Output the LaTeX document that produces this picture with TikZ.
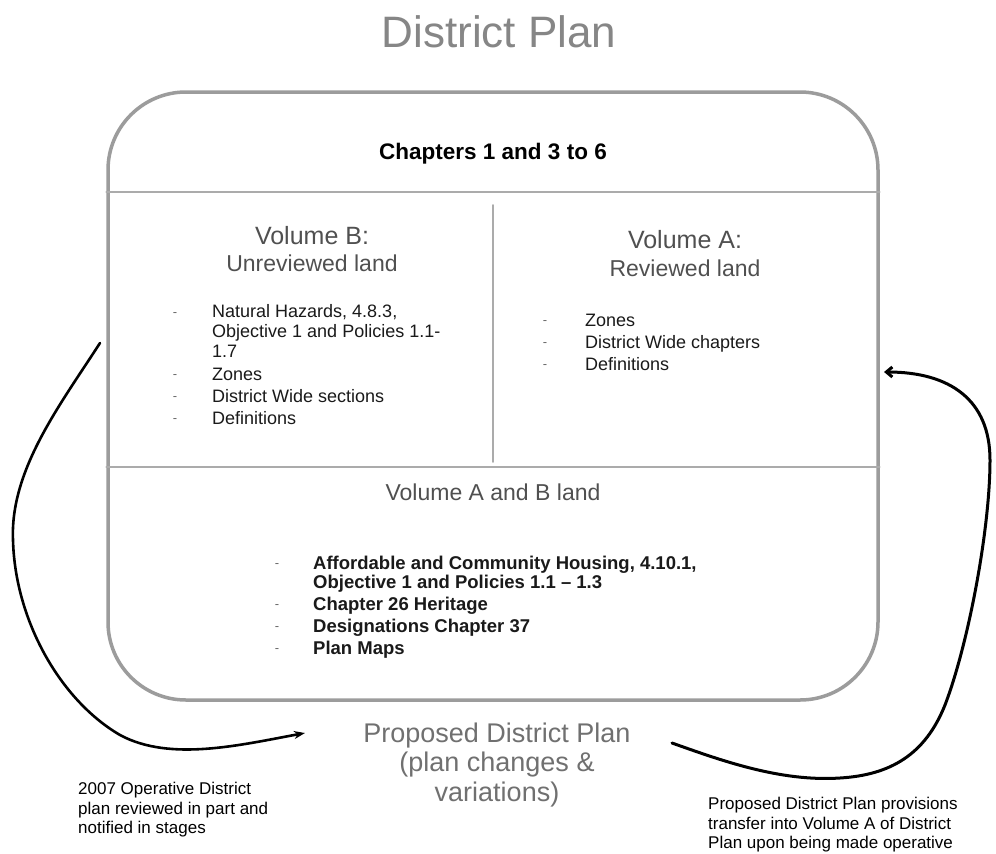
\documentclass[tikz,border=0pt]{standalone}
\usepackage{fontspec}
\setmainfont{Liberation Sans}
\usepackage{tikz}
\usetikzlibrary{arrows.meta,positioning}
\definecolor{titlegray}{HTML}{868686}
\definecolor{volgray}{HTML}{505050}
\definecolor{propgray}{HTML}{707070}
\definecolor{framegray}{HTML}{9C9C9C}
\definecolor{linegray}{HTML}{ABABAB}
\definecolor{dashgray}{HTML}{6A6A6A}
\definecolor{textblack}{HTML}{1A1A1A}

\begin{document}
\begin{tikzpicture}[
    x=1pt, y=-1pt,
    line cap=round,
    %
    heading/.style={font=\fontsize{44}{48}\selectfont, text=titlegray, inner sep=0pt},
    chapterhead/.style={font=\bfseries\fontsize{22.5}{25}\selectfont, inner sep=0pt},
    volume/.style={font=\fontsize{25}{28}\selectfont, text=volgray, inner sep=0pt},
    volsub/.style={font=\fontsize{23}{26}\selectfont, text=volgray, inner sep=0pt},
    entry/.style={anchor=west, align=left, inner sep=0pt, text=textblack,
                  font=\fontsize{18}{20}\selectfont,
                  execute at begin node=\strut, execute at end node=\strut},
    boldentry/.style={entry, font=\bfseries\fontsize{18.5}{19}\selectfont},
    dashsign/.style={inner sep=0pt, text=dashgray, font=\fontsize{13}{13}\selectfont},
    %
    panel/.style={draw=framegray, line width=3.5pt, rounded corners=78pt,
                  minimum width=770pt, minimum height=608pt},
    divider/.style={draw=linegray, line width=1.6pt},
    proposal/.style={align=center, text=propgray, inner sep=0pt,
                     font=\fontsize{27}{29.5}\selectfont},
    notetext/.style={anchor=west, align=left, inner sep=0pt,
                     font=\fontsize{17}{19.5}\selectfont},
    flow/.style={draw=black, line width=2.6pt}
    ]

    \path[fill=white] (0,0) rectangle (996,854);

    \node[heading] (title) at (499,32) {District Plan};
    \node[panel] (plan) at (493,396) {};
    \node[chapterhead] (chapters) at (493,154) {Chapters 1 and 3 to 6};
    %
    \coordinate (rowtop) at (0,192);
    \coordinate (rowlow) at (0,467);
    \draw[divider] (plan.west |- rowtop) -- (plan.east |- rowtop);
    \draw[divider] (plan.west |- rowlow) -- (plan.east |- rowlow);
    \draw[divider] (plan.north |- 0,205) -- (plan.north |- 0,462);

    % unreviewed land
    \node[volume] (volB)    at (312,236) {Volume B:};
    \node[volsub] (volBsub) at (312,263) {Unreviewed land};
    \node[dashsign] (bd1) at (175,315) {-};
    \node[entry]    (bi1) at (212,334) {Natural Hazards, 4.8.3,\\Objective 1 and Policies 1.1-\\1.7};
    \node[dashsign] (bd2) at (175,377) {-};
    \node[entry]    (bi2) at (212,376) {Zones};
    \node[dashsign] (bd3) at (175,399) {-};
    \node[entry]    (bi3) at (212,398) {District Wide sections};
    \node[dashsign] (bd4) at (175,421) {-};
    \node[entry]    (bi4) at (212,420) {Definitions};

    % reviewed land
    \node[volume] (volA)    at (685,240) {Volume A:};
    \node[volsub] (volAsub) at (685,268) {Reviewed land};
    \node[dashsign] (ad1) at (545,323) {-};
    \node[entry]    (ai1) at (585,322) {Zones};
    \node[dashsign] (ad2) at (545,345) {-};
    \node[entry]    (ai2) at (585,344) {District Wide chapters};
    \node[dashsign] (ad3) at (545,367) {-};
    \node[entry]    (ai3) at (585,366) {Definitions};

    % both volumes
    \node[volsub] (volAB) at (493,492) {Volume A and B land};
    \node[dashsign] (cd1) at (277,566) {-};
    \node[boldentry] (ci1) at (313,575.5) {Affordable and Community Housing, 4.10.1,\\Objective 1 and Policies 1.1 -- 1.3};
    \node[dashsign] (cd2) at (277,607) {-};
    \node[boldentry] (ci2) at (313,607) {Chapter 26 Heritage};
    \node[dashsign] (cd3) at (277,629) {-};
    \node[boldentry] (ci3) at (313,629) {Designations Chapter 37};
    \node[dashsign] (cd4) at (277,651) {-};
    \node[boldentry] (ci4) at (313,651) {Plan Maps};

    % below the plan
    \node[proposal] (prop) at (497,765) {Proposed District Plan\\(plan changes \&\\variations)};
    \node[notetext] (oldplan) at (78,810) {2007 Operative District\\plan reviewed in part and\\notified in stages};
    \node[notetext] (transfer) at (708,825) {Proposed District Plan provisions\\transfer into Volume A of District\\Plan upon being made operative};
    %
    \coordinate (lstart) at (100,343);
    \coordinate (ltip)   at (305,733);
    \coordinate (rstart) at (672,743);
    \coordinate (rtip)   at (884,372);
    \draw[flow, -{Stealth[length=11pt,width=8pt]}] (lstart)
        .. controls (60,405) and (10,470) .. (13,540)
        .. controls (15,620) and (60,700) .. (120,735)
        .. controls (170,762) and (240,745) .. (ltip);
    \draw[flow, line width=3pt, -{Straight Barb[length=6pt,width=10pt]}] (rstart)
        .. controls (720,760) and (780,782) .. (840,778)
        .. controls (890,775) and (925,755) .. (945,705)
        .. controls (968,645) and (990,530) .. (990,460)
        .. controls (990,400) and (950,372) .. (rtip);

\end{tikzpicture}
\end{document}
